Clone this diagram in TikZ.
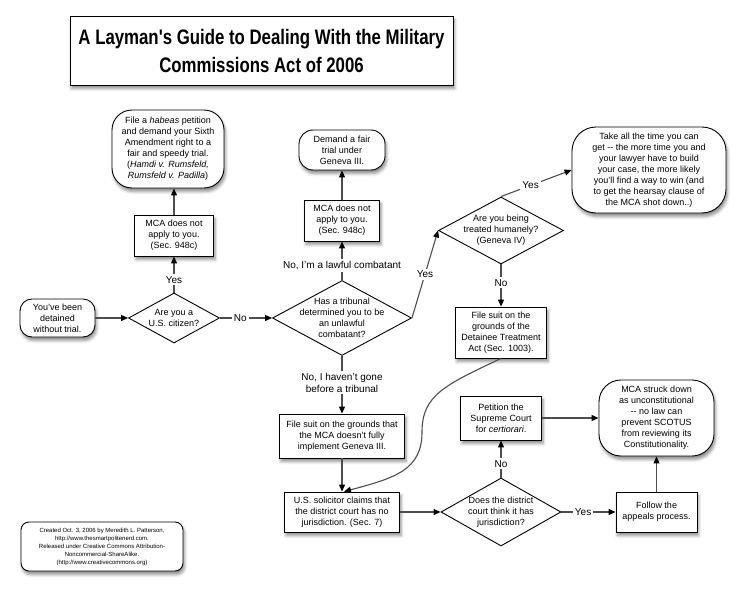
\documentclass[tikz,border=0pt]{standalone}
\usepackage{fontspec}
\setmainfont{Liberation Sans}
\newfontfamily\titlefont[FakeStretch=0.8]{Liberation Sans}
\usetikzlibrary{arrows.meta,shapes.geometric,shadows.blur}
\definecolor{flline}{HTML}{4D4D4D}
\newcommand{\flsize}{\fontsize{9}{11}\selectfont}
\newcommand{\fllabel}{\fontsize{10}{12}\selectfont}
\newcommand{\flsmall}{\fontsize{6}{8}\selectfont}
\tikzset{
  box/.style={draw, fill=white, align=center, font=\flsize, inner sep=0pt, line width=0.9pt,
    blur shadow={shadow xshift=1.5pt, shadow yshift=-3.5pt, shadow blur radius=3pt, shadow opacity=45}},
  endbox/.style={box, rounded corners=#1},
  decision/.style={diamond, draw, fill=white, inner sep=0pt, line width=0.9pt},
  dtext/.style={align=center, font=\flsize, inner sep=0pt},
  arr/.style={-{Triangle[length=7pt, width=6pt, color=black]}, line width=1.1pt, flline},
  lbl/.style={fill=white, text=black, font=\fllabel, inner sep=2pt, align=center},
}

\begin{document}
\begin{tikzpicture}[x=1pt, y=-1pt]
    \useasboundingbox (0,0) rectangle (746,596);
    \node[box, minimum width=383pt, minimum height=69pt, font=\titlefont\bfseries\fontsize{21}{28}\selectfont] (title) at (261.5,50.5) {A Layman's Guide to Dealing With the Military\\Commissions Act of 2006};

    \node[endbox=12pt, minimum width=75pt, minimum height=38pt] (detained) at (57.5,318) {You've been\\detained\\without trial.};
    \node[decision, minimum width=91pt, minimum height=50pt] (citizen) at (174,318) {};
    \node[dtext] (citizen-t) at (citizen) {Are you a\\U.S. citizen?};
    \node[box, minimum width=79pt, minimum height=41pt] (mca1) at (174,235.5) {MCA does not\\apply to you.\\(Sec. 948c)};
    \node[endbox=20pt, minimum width=112pt, minimum height=78pt] (habeas) at (168,149) {File a \textit{habeas} petition\\and demand your Sixth\\Amendment right to a\\fair and speedy trial.\\(\textit{Hamdi v. Rumsfeld,}\\\textit{Rumsfeld v. Padilla})};

    \node[decision, minimum width=139pt, minimum height=75pt] (tribunal) at (342,318) {};
    \node[dtext] (tribunal-t) at (tribunal) {Has a tribunal\\determined you to be\\an unlawful\\combatant?};
    \node[box, minimum width=75pt, minimum height=41pt] (mca2) at (342,220.5) {MCA does not\\apply to you.\\(Sec. 948c)};
    \node[endbox=14pt, minimum width=86pt, minimum height=40pt] (fair) at (342,150) {Demand a fair\\trial under\\Geneva III.};
    \node[box, minimum width=125pt, minimum height=44pt] (geneva) at (342,436) {File suit on the grounds that\\the MCA doesn't fully\\implement Geneva III.};
    \node[box, minimum width=115pt, minimum height=40pt] (solicitor) at (342,512) {U.S. solicitor claims that\\the district court has no\\jurisdiction. (Sec. 7)};

    \node[decision, minimum width=125pt, minimum height=67pt] (humane) at (501,230.5) {};
    \node[dtext] (humane-t) at (humane) {Are you being\\treated humanely?\\(Geneva IV)};
    \node[endbox=24pt, minimum width=154pt, minimum height=86pt] (taketime) at (649,170) {Take all the time you can\\get -{}- the more time you and\\your lawyer have to build\\your case, the more likely\\you'll find a way to win (and\\to get the hearsay clause of\\the MCA shot down..)};
    \node[box, minimum width=91pt, minimum height=51pt] (dta) at (501,332.5) {File suit on the\\grounds of the\\Detainee Treatment\\Act (Sec. 1003).};

    \node[decision, minimum width=120pt, minimum height=68pt] (district) at (501,512) {};
    \node[dtext] (district-t) at (district) {Does the district\\court think it has\\jurisdiction?};
    \node[box, minimum width=81pt, minimum height=44pt] (petition) at (501,418) {Petition the\\Supreme Court\\for \textit{certiorari}.};
    \node[box, minimum width=81pt, minimum height=40pt] (follow) at (656.5,512) {Follow the\\appeals process.};
    \node[endbox=22pt, minimum width=115pt, minimum height=76pt] (struck) at (656.5,418) {MCA struck down\\as unconstitutional\\-{}- no law can\\prevent SCOTUS\\from reviewing its\\Constitutionality.};

    \node[endbox=8pt, minimum width=162pt, minimum height=49pt, font=\flsmall] (credits) at (102,546.5) {Created Oct. 3, 2006 by Meredith L. Patterson,\\http://www.thesmartpolitenerd.com.\\Released under Creative Commons Attribution-\\Noncommercial-ShareAlike.\\(http://www.creativecommons.org)};

    \coordinate (bend) at (422,432);
    \coordinate (solin) at ([xshift=2pt]solicitor.north);

    \draw[arr] (detained) -- (citizen);
    \draw[arr] (citizen) -- node[lbl, pos=0.35] {Yes} (mca1);
    \draw[arr] (mca1.north) -- (mca1.north |- habeas.south);
    \draw[arr] (citizen) -- node[lbl, pos=0.39] {No} (tribunal);
    \draw[arr] (tribunal) -- node[lbl, pos=0.38] {No, I'm a lawful combatant} (mca2);
    \draw[arr] (mca2) -- (fair);
    \draw[arr] (tribunal.east) -- node[lbl, pos=0.5] {Yes} (humane.west);
    \draw[arr] (humane.north) -- node[lbl, pos=0.42] {Yes} (taketime.west);
    \draw[arr] (humane) -- node[lbl, pos=0.44] {No} (dta);
    \draw[arr] (tribunal) -- node[lbl, pos=0.46] {No, I haven't gone\\before a tribunal} (geneva);
    \draw[arr] (geneva) -- (solicitor);
    \draw[arr] (dta.south) .. controls (445,385) and (422,395) .. (bend) .. controls (422,470) and (395,478) .. (solin);
    \draw[arr] (solicitor) -- (district);
    \draw[arr] (district) -- node[lbl, pos=0.37] {No} (petition);
    \draw[arr] (district) -- node[lbl, pos=0.4] {Yes} (follow);
    \draw[arr] (follow) -- (struck);
    \draw[arr] (petition) -- (struck);
\end{tikzpicture}
\end{document}
